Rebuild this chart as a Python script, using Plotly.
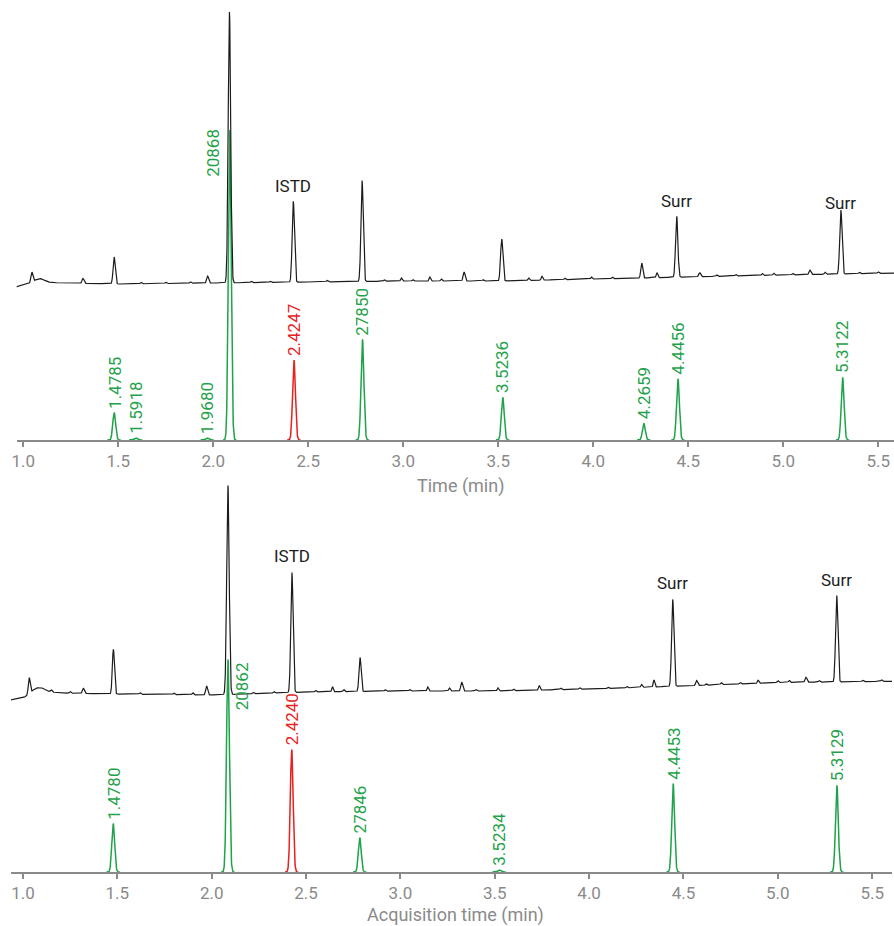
import numpy as np
import plotly.graph_objects as go

# ---------------- data ----------------
# Panel A (top) – TIC baseline knots (time, intensity) and peaks (rt, height, width)
tic_a_base_t = [0.96, 1.00, 1.03, 1.10, 1.20, 1.50, 2.00, 2.50, 3.00, 3.50, 4.00, 4.50, 5.00, 5.60]
tic_a_base_y = [153, 155, 156, 158, 157, 156, 157, 158, 159, 159, 161, 163, 165, 167]
tic_a_rt = [1.045, 1.08, 1.314, 1.478, 1.97, 2.085, 2.421, 2.783, 2.99, 3.14, 3.20, 3.32, 3.518, 3.66,
            3.73, 3.99, 4.255, 4.335, 4.439, 4.56, 4.89, 5.14, 5.303,
            1.62, 1.75, 1.88, 2.20, 2.30, 2.60, 2.90, 3.05, 3.42, 3.85, 4.10, 4.65, 4.75, 4.95,
            5.05, 5.22, 5.40, 5.50]
tic_a_h = [10, 4, 5, 27, 7, 271, 81, 101, 3, 4, 2, 9, 42, 2.5,
           4, 2, 15, 5, 61, 4, 2, 4.5, 64,
           1.5, 1.2, 1.5, 1.5, 1.2, 1.5, 1.5, 1.5, 1.2, 1.5, 1.5, 1.5, 1.5, 2,
           1.5, 2, 1.5, 1.5]
tic_a_w = [0.005, 0.025, 0.005, 0.0055, 0.005, 0.0065, 0.006, 0.006, 0.004, 0.004, 0.004, 0.005, 0.006, 0.004,
           0.004, 0.004, 0.005, 0.004, 0.006, 0.005, 0.004, 0.005, 0.006,
           0.004, 0.004, 0.004, 0.004, 0.004, 0.004, 0.004, 0.004, 0.004, 0.004, 0.004, 0.004, 0.004, 0.004,
           0.004, 0.004, 0.004, 0.004]

# Panel A – extracted ion peaks
eic_a_rt = [1.4785, 1.5918, 1.9680, 2.0868, 2.4247, 2.7850, 3.5236, 4.2659, 4.4456, 5.3122]
eic_a_h = [27.3, 2.0, 2.0, 310, 80, 100.7, 42.7, 16.7, 61.3, 62.7]
eic_a_lbl = ["1.4785", "1.5918", "1.9680", "20868", "2.4247", "27850", "3.5236", "4.2659", "4.4456", "5.3122"]
eic_a_istd = [False, False, False, False, True, False, False, False, False, False]

# Panel B (bottom) – TIC
tic_b_base_t = [0.93, 1.00, 1.02, 1.10, 1.20, 1.50, 2.00, 2.50, 3.00, 3.50, 4.00, 4.50, 5.00, 5.61]
tic_b_base_y = [172, 174, 175, 181, 179, 178, 177, 180, 181, 181, 183, 186, 189.5, 190.7]
tic_b_rt = [1.033, 1.07, 1.32, 1.479, 1.973, 2.086, 2.425, 2.64, 2.786, 3.145, 3.26, 3.325, 3.517, 3.736,
            4.278, 4.344, 4.443, 4.57, 4.896, 5.149, 5.312,
            1.15, 1.25, 1.62, 1.80, 1.90, 2.22, 2.33, 2.55, 2.70, 2.92, 3.05, 3.40, 3.60,
            3.85, 3.95, 4.10, 4.20, 4.62, 4.70, 4.80, 5.00, 5.06, 5.22, 5.45, 5.55]
tic_b_h = [16, 5, 5, 44.7, 9, 209, 120, 5, 34, 4, 3, 9, 3, 4.5,
           3, 7, 87, 5, 3, 5, 86.5,
           2, 1.5, 1.5, 1.5, 2, 1.5, 1.5, 1.5, 2, 1.5, 1.5, 1.5, 1.5,
           1.5, 1.5, 1.5, 1.5, 1.5, 2, 1.5, 2, 2, 1.5, 1.5, 1.5]
tic_b_w = [0.005, 0.03, 0.005, 0.0055, 0.005, 0.0065, 0.006, 0.004, 0.0055, 0.004, 0.004, 0.005, 0.004, 0.004,
           0.004, 0.004, 0.006, 0.005, 0.004, 0.005, 0.006,
           0.004, 0.004, 0.004, 0.004, 0.004, 0.004, 0.004, 0.004, 0.004, 0.004, 0.004, 0.004, 0.004,
           0.004, 0.004, 0.004, 0.004, 0.004, 0.004, 0.004, 0.004, 0.004, 0.004, 0.004, 0.004]

# Panel B – extracted ion peaks
eic_b_rt = [1.4780, 2.0862, 2.4240, 2.7846, 3.5234, 4.4453, 5.3129]
eic_b_h = [48.4, 212.7, 122.4, 34.4, 2.0, 88.4, 86.7]
eic_b_lbl = ["1.4780", "20862", "2.4240", "27846", "3.5234", "4.4453", "5.3129"]
eic_b_istd = [False, False, True, False, False, False, False]

# Compound tags on TIC
tag_a = [("ISTD", 2.421), ("Surr", 4.439), ("Surr", 5.303)]
tag_b = [("ISTD", 2.425), ("Surr", 4.443), ("Surr", 5.312)]

tick_vals = [1.0, 1.5, 2.0, 2.5, 3.0, 3.5, 4.0, 4.5, 5.0, 5.5]
tick_text = ["1.0", "1.5", "2.0", "2.5", "3.0", "3.5", "4.0", "4.5", "5.0", "5.5"]

# ---------------- styling ----------------
GREEN = "#1fa24a"
RED = "#e8211f"
BLACK = "#1c1c1c"
GRAY = "#8a8a8a"
FONT = "Roboto"
EIC_W = 0.0075


def tic_curve(t0, t1, bt, by, rt, h, w):
    t = np.arange(t0, t1, 0.0008)
    y = np.interp(t, bt, by)
    for r, hh, ww in zip(rt, h, w):
        y = y + hh * np.exp(-0.5 * ((t - r) / ww) ** 2)
    return t, y


def peak_seg(r, h):
    t = np.arange(r - 0.035, r + 0.035, 0.0008)
    return t, h * np.exp(-0.5 * ((t - r) / EIC_W) ** 2)


fig = go.Figure()
annotations = []

panels = [
    dict(xa="x", ya="y", base=(0.96, 5.6, tic_a_base_t, tic_a_base_y, tic_a_rt, tic_a_h, tic_a_w),
         rt=eic_a_rt, h=eic_a_h, lbl=eic_a_lbl, istd=eic_a_istd, tags=tag_a,
         special={"20868": ("left",)}, tag_gap={"ISTD": 4, "Surr": 4}, tag_override={2: -4}),
    dict(xa="x2", ya="y2", base=(0.93, 5.61, tic_b_base_t, tic_b_base_y, tic_b_rt, tic_b_h, tic_b_w),
         rt=eic_b_rt, h=eic_b_h, lbl=eic_b_lbl, istd=eic_b_istd, tags=tag_b,
         special={"20862": ("right",)}, tag_gap={"ISTD": 6, "Surr": 5}, tag_override={}),
]

for p in panels:
    # EIC peaks
    for r, h, lab, isd in zip(p["rt"], p["h"], p["lbl"], p["istd"]):
        col = RED if isd else GREEN
        t, y = peak_seg(r, h)
        fig.add_trace(go.Scatter(x=t, y=y, mode="lines", line=dict(color=col, width=1.5),
                                 xaxis=p["xa"], yaxis=p["ya"], showlegend=False, hoverinfo="skip"))
        sp = p["special"].get(lab)
        if sp is None:
            annotations.append(dict(x=r, y=h + 3, xref=p["xa"], yref=p["ya"], text=lab, showarrow=False,
                                    textangle=-90, xanchor="center", yanchor="bottom", borderpad=0,
                                    font=dict(family=FONT, size=17, color=col)))
        elif sp[0] == "left":
            annotations.append(dict(x=r, y=h + 2, xref=p["xa"], yref=p["ya"], text=lab, showarrow=False,
                                    textangle=-90, xanchor="right", yanchor="top", borderpad=0, xshift=-6,
                                    font=dict(family=FONT, size=17, color=col)))
        else:
            annotations.append(dict(x=r, y=h - 2, xref=p["xa"], yref=p["ya"], text=lab, showarrow=False,
                                    textangle=-90, xanchor="left", yanchor="top", borderpad=0, xshift=3,
                                    font=dict(family=FONT, size=17, color=col)))
    # TIC
    t0, t1, bt, by, rt, hh, ww = p["base"]
    t, y = tic_curve(t0, t1, bt, by, rt, hh, ww)
    fig.add_trace(go.Scatter(x=t, y=y, mode="lines", line=dict(color=BLACK, width=1.2),
                             xaxis=p["xa"], yaxis=p["ya"], showlegend=False, hoverinfo="skip"))
    for i, (name, r) in enumerate(p["tags"]):
        top = float(y[np.argmin(np.abs(t - r))])
        gap = p["tag_override"].get(i, p["tag_gap"][name])
        annotations.append(dict(x=r, y=top + gap, xref=p["xa"], yref=p["ya"], text=name, showarrow=False,
                                xanchor="center", yanchor="bottom", borderpad=0,
                                font=dict(family=FONT, size=17, color=BLACK)))

# axis titles
annotations.append(dict(x=0.5085, y=0.4427, xref="paper", yref="paper", text="Time (min)", showarrow=False,
                        xanchor="center", yanchor="middle", font=dict(family=FONT, size=18, color=GRAY)))
annotations.append(dict(x=0.503, y=-0.0495, xref="paper", yref="paper", text="Acquisition time (min)",
                        showarrow=False, xanchor="center", yanchor="middle",
                        font=dict(family=FONT, size=18, color=GRAY)))

xcommon = dict(showgrid=False, zeroline=False, showline=True, linecolor=GRAY, linewidth=1.5,
               ticks="outside", ticklen=5, tickwidth=1.5, tickcolor=GRAY,
               tickvals=tick_vals, ticktext=tick_text,
               tickfont=dict(family=FONT, size=17, color=GRAY))
ycommon = dict(showgrid=False, zeroline=False, showline=False, showticklabels=False, ticks="")

fig.update_layout(
    width=894, height=926,
    margin=dict(l=11, r=0, t=0, b=54),
    paper_bgcolor="white", plot_bgcolor="white",
    xaxis=dict(xcommon, domain=[0.00646, 1.0], range=[0.9653, 5.5826], anchor="y"),
    yaxis=dict(ycommon, domain=[0.4954, 1.0], range=[0, 440], anchor="x"),
    xaxis2=dict(xcommon, domain=[0.0, 0.99774], range=[0.9364, 5.605], anchor="y2"),
    yaxis2=dict(ycommon, domain=[0.0, 0.4495], range=[0, 392], anchor="x2"),
    annotations=annotations,
    font=dict(family=FONT),
)

fig.write_html("out.html", config={"displayModeBar": False},
               post_script="document.body.style.margin='0';document.body.style.overflow='hidden';")
